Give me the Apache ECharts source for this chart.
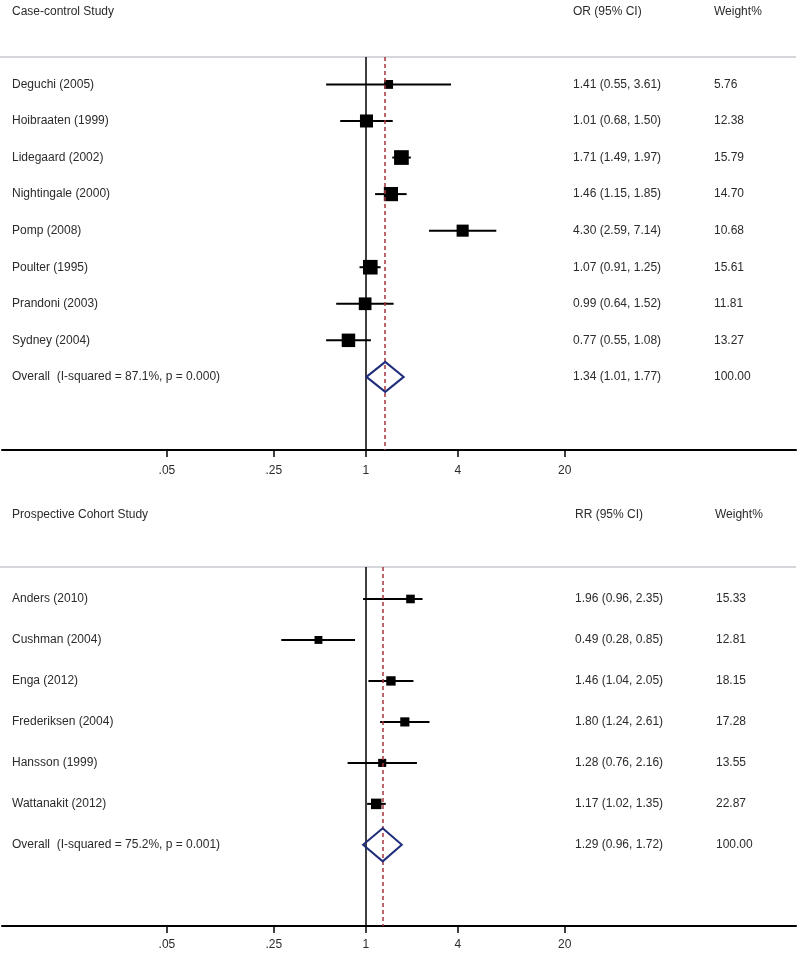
<!DOCTYPE html>
<html>
<head>
<meta charset="utf-8">
<script src="https://cdn.jsdelivr.net/npm/echarts@6/dist/echarts.min.js"></script>
<style>html,body{margin:0;padding:0;background:#fff}#c{width:800px;height:954px}</style>
</head>
<body>
<div id="c"></div>
<script>
// ---------- data ----------
const ccStudies = ['Deguchi (2005)', 'Hoibraaten (1999)', 'Lidegaard (2002)', 'Nightingale (2000)', 'Pomp (2008)', 'Poulter (1995)', 'Prandoni (2003)', 'Sydney (2004)'];
const ccEst = [1.41, 1.01, 1.71, 1.46, 4.30, 1.07, 0.99, 0.77];
const ccLo  = [0.55, 0.68, 1.49, 1.15, 2.59, 0.91, 0.64, 0.55];
const ccHi  = [3.61, 1.50, 1.97, 1.85, 7.14, 1.25, 1.52, 1.08];
const ccW   = [5.76, 12.38, 15.79, 14.70, 10.68, 15.61, 11.81, 13.27];
const ccOverall = [1.34, 1.01, 1.77];
const ccOverallLabel = 'Overall  (I-squared = 87.1%, p = 0.000)';

const pcStudies = ['Anders (2010)', 'Cushman (2004)', 'Enga (2012)', 'Frederiksen (2004)', 'Hansson (1999)', 'Wattanakit (2012)'];
const pcEst = [1.96, 0.49, 1.46, 1.80, 1.28, 1.17];
const pcLo  = [0.96, 0.28, 1.04, 1.24, 0.76, 1.02];
const pcHi  = [2.35, 0.85, 2.05, 2.61, 2.16, 1.35];
const pcW   = [15.33, 12.81, 18.15, 17.28, 13.55, 22.87];
const pcOverall = [1.29, 0.96, 1.72];
const pcOverallLabel = 'Overall  (I-squared = 75.2%, p = 0.001)';

const tickValues = [0.05, 0.25, 1, 4, 20];
const tickLabels = ['.05', '.25', '1', '4', '20'];

// ---------- helpers ----------
const FONT = '"Liberation Sans", Arial, sans-serif';
const TXT = '#2b2b2b';
const ln = Math.log;
const fmt2 = v => v.toFixed(2);
const ciText = (e, l, h) => fmt2(e) + ' (' + fmt2(l) + ', ' + fmt2(h) + ')';

const chart = echarts.init(document.getElementById('c'), null, {renderer: 'canvas'});

function xAxisDef(gi, margin) {
  return {
    gridIndex: gi, type: 'value', min: -5.48, max: 6.48, position: 'bottom',
    axisLine: {show: true, onZero: false, lineStyle: {color: '#000', width: 2}},
    axisTick: {show: true, length: 7, customValues: tickValues.map(ln), lineStyle: {color: '#000', width: 1.5}},
    axisLabel: {
      show: true, margin: margin, customValues: tickValues.map(ln),
      fontFamily: FONT, fontSize: 12, color: TXT,
      formatter: function (v) {
        let best = 0, d = 1e9;
        tickValues.forEach((t, i) => { const dd = Math.abs(ln(t) - v); if (dd < d) { d = dd; best = i; } });
        return tickLabels[best];
      }
    },
    splitLine: {show: false}
  };
}

function panelSeries(pi, studies, est, lo, hi, w, overall, overallLabel, k, diaHalf, colX) {
  const n = studies.length;
  const series = [];
  // confidence intervals
  series.push({
    type: 'custom', xAxisIndex: pi, yAxisIndex: pi, z: 3,
    data: studies.map((s, i) => [ln(lo[i]), ln(hi[i]), i]),
    renderItem: function (params, api) {
      const a = api.coord([api.value(0), api.value(2)]);
      const b = api.coord([api.value(1), api.value(2)]);
      return {type: 'line', shape: {x1: a[0], y1: a[1], x2: b[0], y2: b[1]}, style: {stroke: '#000', lineWidth: 2}};
    }
  });
  // squares
  series.push({
    type: 'scatter', xAxisIndex: pi, yAxisIndex: pi, z: 4, symbol: 'rect',
    data: studies.map((s, i) => [ln(est[i]), i, w[i]]),
    symbolSize: v => k * Math.sqrt(v[2]),
    itemStyle: {color: '#000', opacity: 1},
    // reference lines (null effect and pooled estimate)
    markLine: {
      silent: true, symbol: 'none', label: {show: false},
      data: [
        {xAxis: 0, lineStyle: {color: '#000', width: 1.5, type: 'solid', opacity: 1}},
        {xAxis: ln(overall[0]), lineStyle: {color: '#a8323e', width: 1.5, type: [4, 3], opacity: 1}}
      ]
    }
  });
  // diamond
  series.push({
    type: 'custom', xAxisIndex: pi, yAxisIndex: pi, z: 5,
    data: [[ln(overall[1]), ln(overall[0]), ln(overall[2]), n]],
    renderItem: function (params, api) {
      const l = api.coord([api.value(0), api.value(3)]);
      const c = api.coord([api.value(1), api.value(3)]);
      const r = api.coord([api.value(2), api.value(3)]);
      return {type: 'polygon', shape: {points: [[l[0], l[1]], [c[0], c[1] - diaHalf], [r[0], r[1]], [c[0], c[1] + diaHalf]]},
        style: {fill: 'none', stroke: '#1f2d7b', lineWidth: 2}};
    }
  });
  // text columns
  const names = studies.concat([overallLabel]);
  const cis = studies.map((s, i) => ciText(est[i], lo[i], hi[i])).concat([ciText(overall[0], overall[1], overall[2])]);
  const wts = w.map(fmt2).concat(['100.00']);
  series.push({
    type: 'custom', xAxisIndex: pi, yAxisIndex: pi, z: 6,
    data: names.map((s, i) => [0, i]),
    renderItem: function (params, api) {
      const i = params.dataIndex;
      const y = api.coord([0, api.value(1)])[1];
      const st = t => ({text: t, fontFamily: FONT, fontSize: 12, fill: TXT, textVerticalAlign: 'middle', textAlign: 'left'});
      return {type: 'group', children: [
        {type: 'text', x: colX[0], y: y, style: st(names[i])},
        {type: 'text', x: colX[1], y: y, style: st(cis[i])},
        {type: 'text', x: colX[2], y: y, style: st(wts[i])}
      ]};
    }
  });
  return series;
}

const hdr = (t, x, y) => ({type: 'text', left: x, top: y - 6, style: {text: t, fontFamily: FONT, fontSize: 12, fill: TXT}});
const sep = y => ({type: 'line', shape: {x1: 0, y1: y, x2: 796, y2: y}, style: {stroke: '#c9cad2', lineWidth: 1.5}, z: 1});

const option = {
  backgroundColor: '#fff',
  animation: false,
  grid: [
    {left: 2, right: 4, top: 57, height: 393},
    {left: 2, right: 4, top: 567, height: 359}
  ],
  xAxis: [xAxisDef(0, 15), xAxisDef(1, 13)],
  yAxis: [
    {gridIndex: 0, type: 'value', inverse: true, min: -0.75, max: 10, show: false},
    {gridIndex: 1, type: 'value', inverse: true, min: -0.78, max: 7.98, show: false}
  ],
  graphic: [
    hdr('Case-control Study', 12, 12), hdr('OR (95% CI)', 573, 12), hdr('Weight%', 714, 12),
    hdr('Prospective Cohort Study', 12, 515), hdr('RR (95% CI)', 575, 515), hdr('Weight%', 715, 515),
    sep(57), sep(567)
  ],
  series: [].concat(
    panelSeries(0, ccStudies, ccEst, ccLo, ccHi, ccW, ccOverall, ccOverallLabel, 3.7, 15, [12, 573, 714]),
    panelSeries(1, pcStudies, pcEst, pcLo, pcHi, pcW, pcOverall, pcOverallLabel, 2.2, 16.5, [12, 575, 716])
  )
};
chart.setOption(option);
</script>
</body>
</html>
